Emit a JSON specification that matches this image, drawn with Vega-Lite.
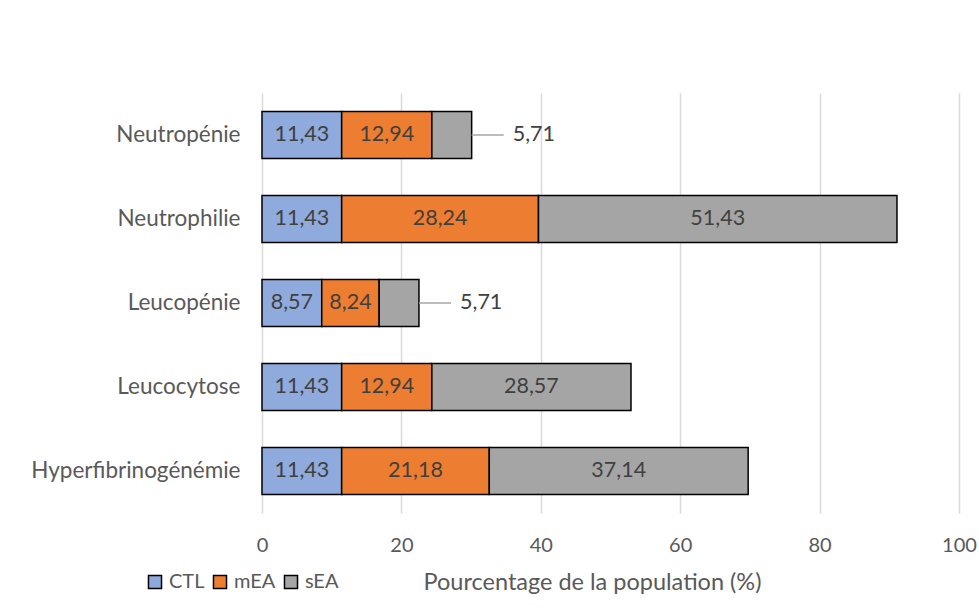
{
  "$schema": "https://vega.github.io/schema/vega-lite/v6.json",
  "width": 697,
  "height": 420,
  "autosize": {"type": "none"},
  "padding": {"left": 262, "top": 93, "right": 20, "bottom": 101},
  "background": "white",
  "config": {"view": {"stroke": null}, "font": "Lato"},
  "data": {
    "values": [
      {"cat": "Neutropénie", "grp": "CTL", "order": 1, "value": 11.43},
      {"cat": "Neutropénie", "grp": "mEA", "order": 2, "value": 12.94},
      {"cat": "Neutropénie", "grp": "sEA", "order": 3, "value": 5.71},
      {"cat": "Neutrophilie", "grp": "CTL", "order": 1, "value": 11.43},
      {"cat": "Neutrophilie", "grp": "mEA", "order": 2, "value": 28.24},
      {"cat": "Neutrophilie", "grp": "sEA", "order": 3, "value": 51.43},
      {"cat": "Leucopénie", "grp": "CTL", "order": 1, "value": 8.57},
      {"cat": "Leucopénie", "grp": "mEA", "order": 2, "value": 8.24},
      {"cat": "Leucopénie", "grp": "sEA", "order": 3, "value": 5.71},
      {"cat": "Leucocytose", "grp": "CTL", "order": 1, "value": 11.43},
      {"cat": "Leucocytose", "grp": "mEA", "order": 2, "value": 12.94},
      {"cat": "Leucocytose", "grp": "sEA", "order": 3, "value": 28.57},
      {"cat": "Hyperfibrinogénémie", "grp": "CTL", "order": 1, "value": 11.43},
      {"cat": "Hyperfibrinogénémie", "grp": "mEA", "order": 2, "value": 21.18},
      {"cat": "Hyperfibrinogénémie", "grp": "sEA", "order": 3, "value": 37.14}
    ]
  },
  "transform": [
    {"stack": "value", "groupby": ["cat"], "sort": [{"field": "order", "order": "ascending"}], "as": ["v0", "v1"]},
    {"calculate": "(datum.v0 + datum.v1) / 2", "as": "mid"},
    {"calculate": "replace(format(datum.value, '.2f'), '.', ',')", "as": "label"}
  ],
  "encoding": {
    "y": {
      "field": "cat",
      "type": "nominal",
      "sort": ["Neutropénie", "Neutrophilie", "Leucopénie", "Leucocytose", "Hyperfibrinogénémie"],
      "scale": {"paddingInner": 0.44, "paddingOuter": 0.22},
      "axis": {
        "title": null,
        "domain": false,
        "ticks": false,
        "labelFontSize": 22.5,
        "labelColor": "#595959",
        "labelPadding": 22,
        "labelLimit": 300
      }
    }
  },
  "layer": [
    {
      "mark": {"type": "bar", "stroke": "black", "strokeWidth": 1.5},
      "encoding": {
        "x": {
          "field": "v0",
          "type": "quantitative",
          "scale": {"domain": [0, 100]},
          "axis": {
            "values": [0, 20, 40, 60, 80, 100],
            "grid": true,
            "gridColor": "#d9d9d9",
            "gridWidth": 1.5,
            "domain": false,
            "ticks": false,
            "labelFlush": false,
            "labelFontSize": 20,
            "labelColor": "#595959",
            "labelPadding": 22,
            "title": "Pourcentage de la population (%)",
            "titleFontSize": 23.5,
            "titleFontWeight": "normal",
            "titleColor": "#595959",
            "titleX": 330,
            "titleY": 69,
            "titleBaseline": "middle"
          }
        },
        "x2": {"field": "v1"},
        "color": {
          "field": "grp",
          "type": "nominal",
          "scale": {"domain": ["CTL", "mEA", "sEA"], "range": ["#8faadc", "#ed7d31", "#a5a5a5"]},
          "legend": {
            "orient": "none",
            "legendX": -117,
            "legendY": 479,
            "direction": "horizontal",
            "title": null,
            "symbolType": "square",
            "symbolSize": 170,
            "symbolStrokeColor": "black",
            "symbolStrokeWidth": 1.5,
            "labelFontSize": 20,
            "labelColor": "#595959",
            "labelOffset": 4,
            "columnPadding": 5
          }
        }
      }
    },
    {
      "transform": [{"filter": "!(datum.grp == 'sEA' && datum.value < 10)"}],
      "mark": {"type": "text", "fontSize": 21.5, "color": "#404040"},
      "encoding": {
        "x": {"field": "mid", "type": "quantitative"},
        "text": {"field": "label"}
      }
    },
    {
      "transform": [
        {"filter": "datum.grp == 'sEA' && datum.value < 10"},
        {"calculate": "datum.v1 + 4.6", "as": "lend"}
      ],
      "mark": {"type": "rule", "color": "#a6a6a6", "strokeWidth": 1.5},
      "encoding": {
        "x": {"field": "v1", "type": "quantitative"},
        "x2": {"field": "lend"}
      }
    },
    {
      "transform": [
        {"filter": "datum.grp == 'sEA' && datum.value < 10"},
        {"calculate": "datum.v1 + 4.6", "as": "lend"}
      ],
      "mark": {"type": "text", "fontSize": 21.5, "color": "#404040", "align": "left", "dx": 9},
      "encoding": {
        "x": {"field": "lend", "type": "quantitative"},
        "text": {"field": "label"}
      }
    }
  ]
}
